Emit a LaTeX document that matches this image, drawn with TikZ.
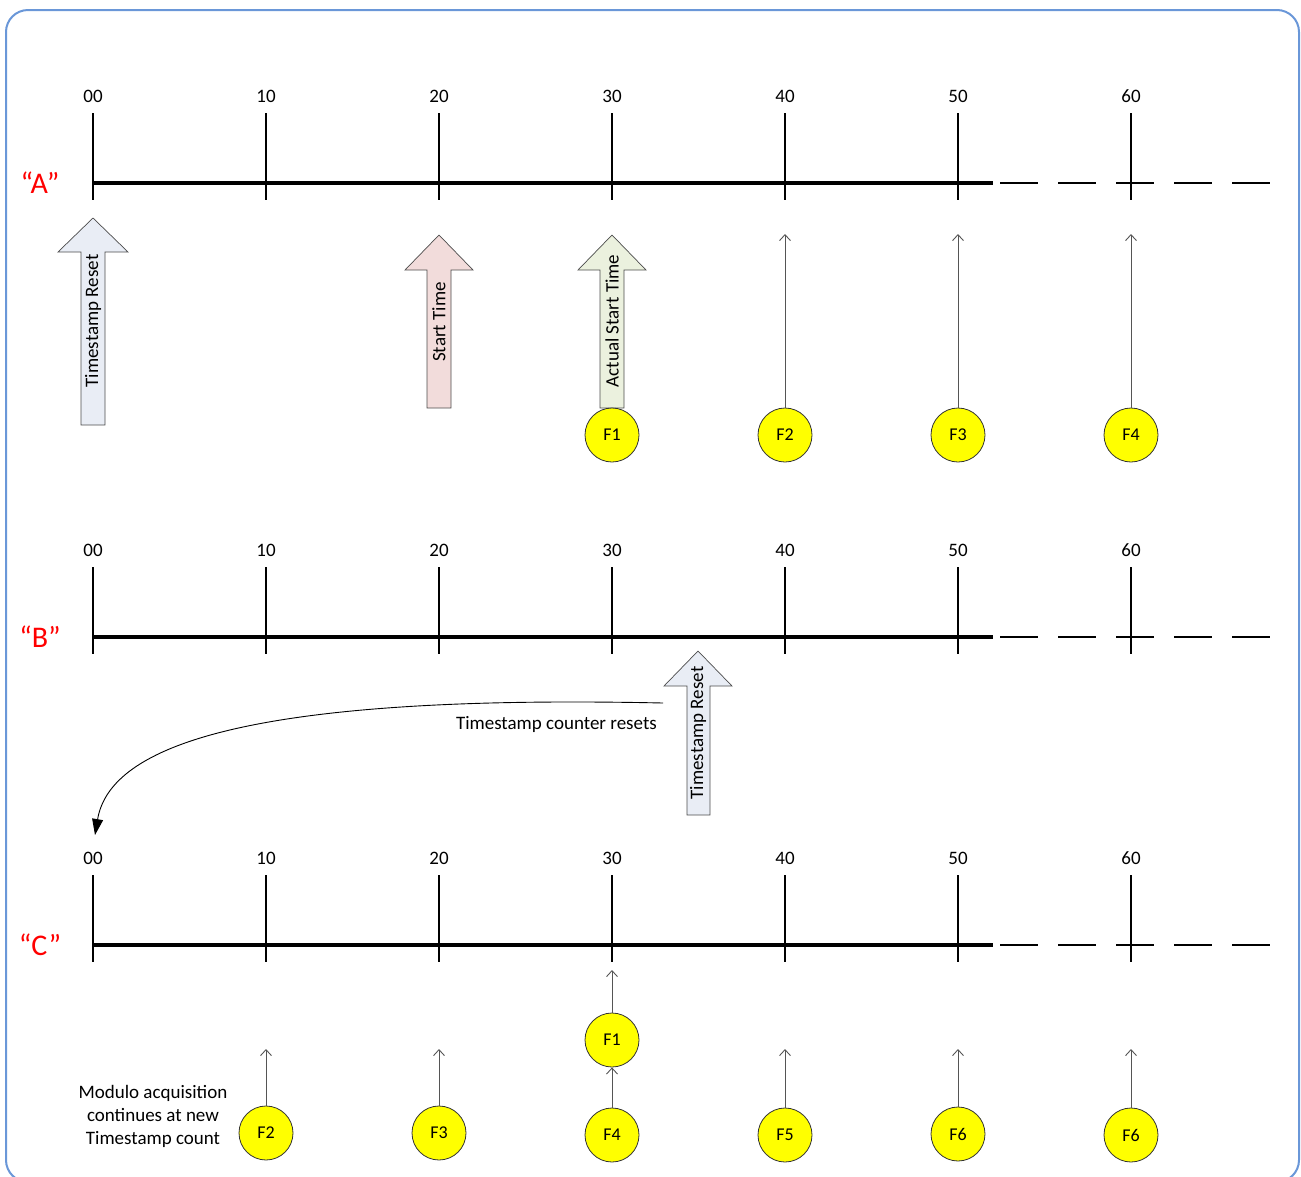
\documentclass[tikz,border=0pt]{standalone}
\usepackage{fontspec}
\setmainfont{Carlito}
\usetikzlibrary{arrows.meta,shapes.geometric}
\definecolor{frameblue}{HTML}{6A97D8}
\definecolor{resetfill}{HTML}{E9EDF5}
\definecolor{startfill}{HTML}{F2DCDB}
\definecolor{actualfill}{HTML}{EBF1DE}
\definecolor{fyellow}{HTML}{FFFF00}
\definecolor{thingray}{HTML}{555555}
\tikzset{
  axisline/.style={line width=3.2pt},
  tickline/.style={line width=2.4pt},
  dashpart/.style={line width=2.4pt, dash pattern=on 38pt off 20pt},
  ticklabel/.style={font=\fontsize{19}{22}\selectfont, inner sep=0pt},
  rowlabel/.style={font=\fontsize{30}{34}\selectfont, text=red, inner sep=0pt},
  blockarrow/.style={draw=black!70, line width=0.7pt},
  arrowtext/.style={rotate=90, font=\fontsize{19}{22}\selectfont, inner sep=0pt},
  fcircle/.style={circle, draw=black!80, fill=fyellow, line width=0.8pt, minimum size=54pt, inner sep=0pt, font=\fontsize{18}{21}\selectfont},
  fellipse/.style={ellipse, draw=black!80, fill=fyellow, line width=0.8pt, minimum width=54pt, minimum height=54pt, inner sep=0pt, font=\fontsize{18}{21}\selectfont},
  thinarrow/.style={draw=thingray, line width=0.9pt, -{Straight Barb[length=6pt,width=11pt]}},
  note/.style={font=\fontsize{19}{23}\selectfont, inner sep=0pt, align=center},
}
\begin{document}
\begin{tikzpicture}[x=1pt,y=-1pt]
\useasboundingbox (0,0) rectangle (1301,1176);
\begin{scope}
\clip (0,0) rectangle (1301,1176);
\draw[frameblue, line width=2pt, rounded corners=22pt] (6,10) rectangle (1299,1182);
\end{scope}

% timelines
\foreach \r/\ya/\lbl in {A/183/“A”, B/637/“B”, C/945/“C”}{
  \node[rowlabel] (row\r) at (40,\ya) {\lbl};
  \coordinate (s\r) at (93,\ya);
  \coordinate (e\r) at (993,\ya);
  \coordinate (d\r) at (1000,\ya);
  \coordinate (z\r) at (1270,\ya);
  \draw[axisline] (s\r) -- (e\r);
  \draw[dashpart] (d\r) -- (z\r);
  \foreach \x/\t in {93/00,266/10,439/20,612/30,785/40,958/50,1131/60}{
    \draw[tickline] (\x,\ya-70) -- (\x,\ya+17);
    \node[ticklabel] (lab\r\t) at (\x,\ya-87) {\t};
  }
}

% block arrows row A
\draw[blockarrow, fill=resetfill] (81,425) -- (81,252) -- (58,252) -- (93,218) -- (128,252) -- (105,252) -- (105,425) -- cycle;
\node[arrowtext] (tsresetA) at (93,321) {Timestamp Reset};
\draw[blockarrow, fill=startfill] (427,408) -- (427,270) -- (405,270) -- (439,235) -- (473,270) -- (451,270) -- (451,408) -- cycle;
\node[arrowtext] (starttime) at (439,322) {Start Time};
\draw[blockarrow, fill=actualfill] (600,408) -- (600,270) -- (578,270) -- (612,235) -- (646,270) -- (624,270) -- (624,408) -- cycle;
\node[arrowtext] (actualstart) at (612,321) {Actual Start Time};

% frames row A
\node[fcircle] (aF1) at (612,435) {F1};
\node[fcircle] (aF2) at (785,435) {F2};
\node[fcircle] (aF3) at (958,435) {F3};
\node[fcircle] (aF4) at (1131,435) {F4};
\coordinate (tA2) at (785,234);
\coordinate (tA3) at (958,234);
\coordinate (tA4) at (1131,234);
\draw[thinarrow] (aF2) -- (tA2);
\draw[thinarrow] (aF3) -- (tA3);
\draw[thinarrow] (aF4) -- (tA4);

% block arrow row B
\draw[blockarrow, fill=resetfill] (687,815) -- (687,686) -- (664,686) -- (698,651) -- (732,686) -- (710,686) -- (710,815) -- cycle;
\node[arrowtext] (tsresetB) at (698,733) {Timestamp Reset};

% curved arrow
\coordinate (cstart) at (663,703);
\coordinate (cend) at (95,835);
\draw[line width=0.9pt, -{Triangle[length=16pt,width=11pt]}] (cstart) .. controls (250,694) and (110,745) .. (cend);
\node[note, anchor=east] (counterresets) at (657,724) {Timestamp counter resets};

% row C frames
\node[fellipse] (cF1) at (612,1040) {F1};
\node[fellipse] (cF4) at (612,1135) {F4};
\node[fellipse] (cF2) at (266,1133) {F2};
\node[fellipse] (cF3) at (439,1133) {F3};
\node[fellipse] (cF5) at (785,1135) {F5};
\node[fellipse] (cF6a) at (958,1134) {F6};
\node[fellipse] (cF6b) at (1131,1135) {F6};
\coordinate (tC1) at (612,970);
\coordinate (tC2) at (266,1049);
\coordinate (tC3) at (439,1049);
\coordinate (tC5) at (785,1049);
\coordinate (tC6a) at (958,1049);
\coordinate (tC6b) at (1131,1049);
\draw[thinarrow] (cF1) -- (tC1);
\draw[thinarrow] (cF4) -- (cF1);
\draw[thinarrow] (cF2) -- (tC2);
\draw[thinarrow] (cF3) -- (tC3);
\draw[thinarrow] (cF5) -- (tC5);
\draw[thinarrow] (cF6a) -- (tC6a);
\draw[thinarrow] (cF6b) -- (tC6b);

\node[note] (modulo) at (153,1116) {Modulo acquisition\\continues at new\\Timestamp count};
\end{tikzpicture}
\end{document}
